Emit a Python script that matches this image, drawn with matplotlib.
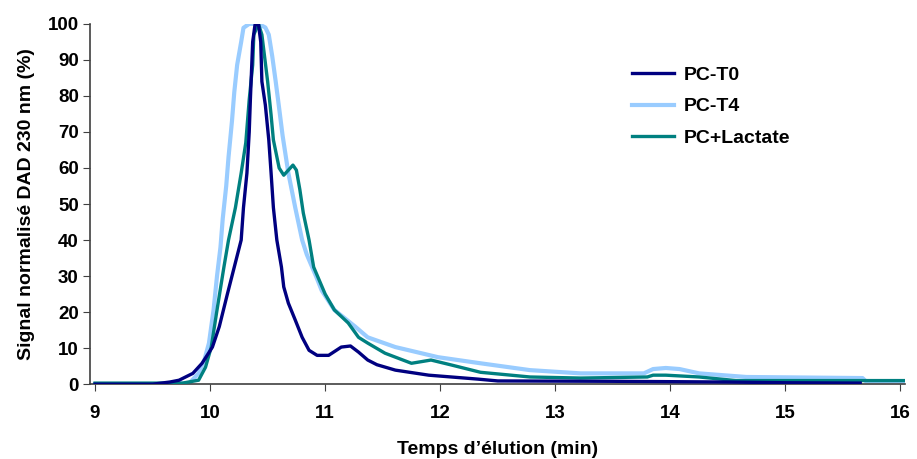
import matplotlib.pyplot as plt

plt.rcParams['font.family'] = ['Liberation Sans', 'DejaVu Sans']
plt.rcParams['font.weight'] = 'bold'

# PC-T0
t0_x = [9.0, 9.5, 9.65, 9.73, 9.85, 9.93, 10.02, 10.08, 10.15, 10.21, 10.27, 10.29, 10.32,
        10.34, 10.35, 10.37, 10.39, 10.42, 10.44, 10.45, 10.48, 10.51, 10.53, 10.55, 10.58,
        10.62, 10.64, 10.68, 10.74, 10.8, 10.86, 10.93, 11.03, 11.14, 11.22, 11.29, 11.37,
        11.45, 11.61, 11.9, 12.33, 12.5, 13.5, 14.5, 15.0, 15.65]
t0_y = [0.0, 0.0, 0.6, 1.1, 3.0, 5.8, 10.3, 16.0, 25.0, 32.5, 40.0, 49.0, 58.6,
        70.0, 79.0, 95.0, 99.7, 100.0, 95.0, 84.0, 77.5, 67.8, 58.6, 49.0, 40.0,
        32.5, 27.0, 22.5, 17.8, 13.0, 9.4, 8.0, 8.0, 10.3, 10.6, 8.9, 6.7,
        5.4, 3.9, 2.5, 1.4, 0.9, 0.8, 0.6, 0.4, 0.3]

# PC-T4
t4_x = [9.0, 9.6, 9.82, 9.9, 9.95, 9.99, 10.03, 10.06, 10.09, 10.11, 10.14, 10.16, 10.19,
        10.21, 10.235, 10.27, 10.29, 10.34, 10.42, 10.48, 10.51, 10.54, 10.57, 10.6, 10.63,
        10.68, 10.74, 10.8, 10.84, 10.88, 10.92, 10.97, 11.08, 11.26, 11.37, 11.61, 11.98,
        12.35, 12.78, 13.22, 13.77, 13.85, 13.96, 14.08, 14.25, 14.66, 15.67, 15.7, 16.04]
t4_y = [0.0, 0.0, 0.3, 3.0, 6.7, 11.4, 20.6, 30.0, 38.0, 46.0, 55.0, 63.0, 73.0,
        81.0, 88.6, 95.0, 98.9, 100.0, 100.0, 99.0, 97.0, 91.0, 84.0, 76.6, 69.0,
        58.6, 49.0, 40.0, 36.0, 33.0, 30.0, 26.0, 20.6, 16.0, 13.0, 10.3, 7.5,
        5.8, 3.9, 3.0, 3.0, 4.2, 4.5, 4.2, 3.0, 2.0, 1.7, 0.8, 0.8]

# PC+Lactate
lac_x = [9.0, 9.6, 9.76, 9.9, 9.96, 10.01, 10.06, 10.12, 10.16, 10.22, 10.27, 10.31, 10.34,
         10.37, 10.38, 10.42, 10.45, 10.5, 10.53, 10.55, 10.6, 10.64, 10.68, 10.72, 10.75,
         10.78, 10.81, 10.86, 10.9, 11.0, 11.08, 11.2, 11.29, 11.37, 11.52, 11.75, 11.92,
         12.1, 12.35, 12.78, 13.22, 13.8, 13.85, 13.96, 14.25, 14.57, 16.04]
lac_y = [0.3, 0.3, 0.3, 1.1, 4.7, 10.3, 20.6, 32.5, 40.0, 49.0, 58.6, 67.0, 79.0,
         88.6, 97.0, 100.0, 97.0, 84.0, 74.7, 67.8, 60.0, 58.0, 59.4, 60.8, 59.4,
         54.0, 47.5, 40.0, 32.5, 25.0, 20.6, 17.0, 13.0, 11.4, 8.6, 5.8, 6.7,
         5.3, 3.3, 2.0, 1.7, 2.0, 2.5, 2.5, 2.0, 1.0, 1.0]

fig = plt.figure(figsize=(9.17, 4.59), dpi=100)
ax = fig.add_axes([0.098, 0.163, 0.889, 0.785])

ax.plot(t4_x, t4_y, color='#99CCFF', linewidth=3.0, label='PC-T4', zorder=2)
ax.plot(lac_x, lac_y, color='#008080', linewidth=2.4, label='PC+Lactate', zorder=3)
ax.plot(t0_x, t0_y, color='#000080', linewidth=2.4, label='PC-T0', zorder=4)

ax.set_xlim(8.955, 16.04)
ax.set_ylim(0, 100)
ax.set_xticks(range(9, 17))
ax.set_yticks(range(0, 101, 10))
ax.tick_params(axis='both', labelsize=13.5, length=5, color='#404040', direction='out')
ax.tick_params(axis='x', pad=10)
ax.tick_params(axis='y', pad=3)
for s in ['top', 'right']:
    ax.spines[s].set_visible(False)
for s in ['left', 'bottom']:
    ax.spines[s].set_color('#404040')
    ax.spines[s].set_linewidth(1.2)

ax.set_xlabel('Temps d\u2019élution (min)', fontsize=14, fontweight='bold', labelpad=14)
ax.set_ylabel('Signal normalisé DAD 230 nm (%)', fontsize=14, fontweight='bold', labelpad=9)

h, l = ax.get_legend_handles_labels()
order = [2, 0, 1]
ax.legend([h[i] for i in order], [l[i] for i in order], loc='upper left',
          bbox_to_anchor=(0.643, 0.93), frameon=False, fontsize=14,
          handlelength=2.2, labelspacing=0.7, handletextpad=0.5)

fig.savefig('out.png', dpi=100)
